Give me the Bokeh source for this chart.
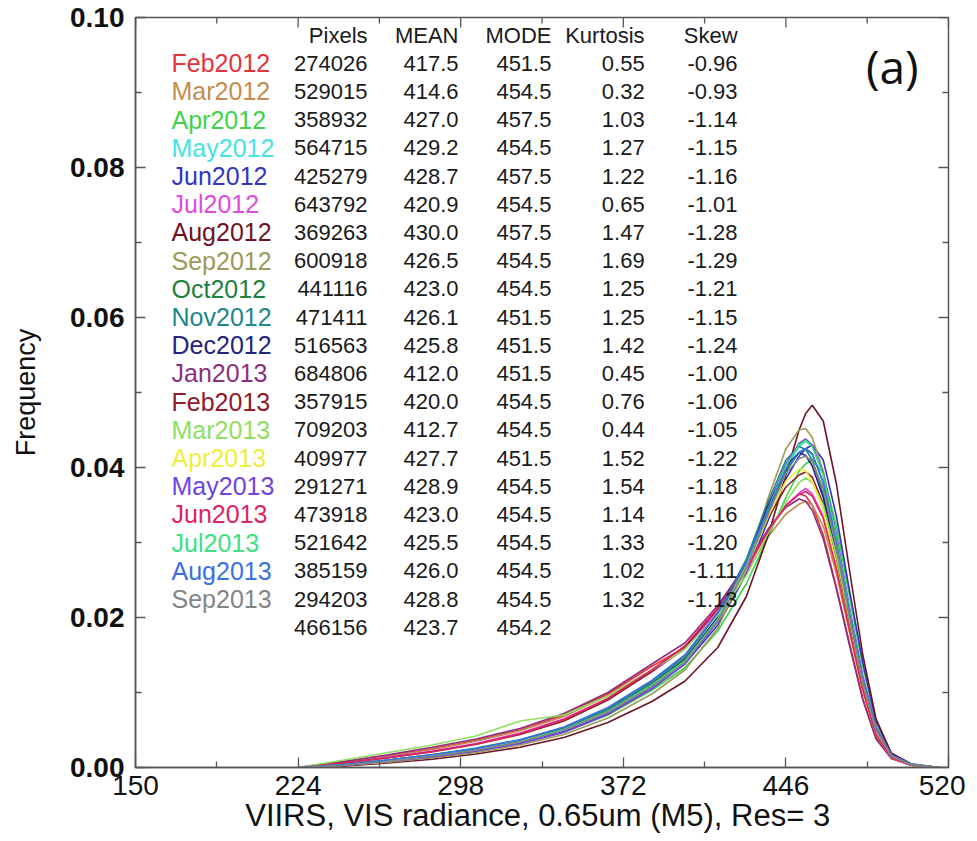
from bokeh.plotting import figure
from bokeh.models import FixedTicker, PrintfTickFormatter, Label, Range1d
from bokeh.core.properties import value
from bokeh.embed import file_html
from bokeh.resources import INLINE

# ---------------- data ----------------
months = ["Feb2012", "Mar2012", "Apr2012", "May2012", "Jun2012", "Jul2012", "Aug2012",
          "Sep2012", "Oct2012", "Nov2012", "Dec2012", "Jan2013", "Feb2013", "Mar2013",
          "Apr2013", "May2013", "Jun2013", "Jul2013", "Aug2013", "Sep2013"]
colors = ["#e3343c", "#c48d4e", "#3ed24c", "#45e3e3", "#3434c4", "#e04adf", "#6e1420",
          "#9c9a56", "#24803e", "#22878a", "#24247e", "#8e2f7e", "#8e1a2a", "#8fe060",
          "#f0ee3c", "#6f44e4", "#e0245f", "#40e083", "#3a70e0", "#858585"]
pixels = [274026, 529015, 358932, 564715, 425279, 643792, 369263, 600918, 441116, 471411,
          516563, 684806, 357915, 709203, 409977, 291271, 473918, 521642, 385159, 294203]
means = [417.5, 414.6, 427.0, 429.2, 428.7, 420.9, 430.0, 426.5, 423.0, 426.1,
         425.8, 412.0, 420.0, 412.7, 427.7, 428.9, 423.0, 425.5, 426.0, 428.8]
modes = [451.5, 454.5, 457.5, 454.5, 457.5, 454.5, 457.5, 454.5, 454.5, 451.5,
         451.5, 451.5, 454.5, 454.5, 451.5, 454.5, 454.5, 454.5, 454.5, 454.5]
kurtosis = [0.55, 0.32, 1.03, 1.27, 1.22, 0.65, 1.47, 1.69, 1.25, 1.25,
            1.42, 0.45, 0.76, 0.44, 1.52, 1.54, 1.14, 1.33, 1.02, 1.32]
skew = [-0.96, -0.93, -1.14, -1.15, -1.16, -1.01, -1.28, -1.29, -1.21, -1.15,
        -1.24, -1.00, -1.06, -1.05, -1.22, -1.18, -1.16, -1.20, -1.11, -1.13]
total_pixels = 466156
total_mean = 423.7
total_mode = 454.2

radiance = [224, 245, 265, 285, 305, 325, 345, 365, 385, 400, 415, 428, 438, 446,
            452, 455, 458, 463, 469, 475, 481, 487, 494, 503, 516]

freq_feb2012 = [0, 0.0008, 0.0016, 0.0025, 0.0036, 0.0050, 0.0070, 0.0098, 0.0135, 0.0160, 0.0212, 0.0266, 0.0318, 0.0350, 0.0365, 0.0362, 0.0350, 0.0310, 0.0240, 0.0165, 0.0092, 0.0040, 0.0012, 0.0003, 0]
freq_mar2012 = [0, 0.0007, 0.0015, 0.0024, 0.0035, 0.0049, 0.0068, 0.0096, 0.0130, 0.0158, 0.0208, 0.0260, 0.0308, 0.0338, 0.0351, 0.0355, 0.0350, 0.0322, 0.0258, 0.0180, 0.0102, 0.0044, 0.0013, 0.0003, 0]
freq_apr2012 = [0, 0.0003, 0.0008, 0.0014, 0.0022, 0.0032, 0.0047, 0.0070, 0.0103, 0.0133, 0.0182, 0.0245, 0.0308, 0.0360, 0.0395, 0.0405, 0.0410, 0.0392, 0.0322, 0.0228, 0.0135, 0.0060, 0.0018, 0.0004, 0]
freq_may2012 = [0, 0.0003, 0.0008, 0.0015, 0.0023, 0.0034, 0.0050, 0.0074, 0.0108, 0.0140, 0.0195, 0.0265, 0.0340, 0.0400, 0.0428, 0.0435, 0.0428, 0.0390, 0.0308, 0.0210, 0.0120, 0.0052, 0.0016, 0.0004, 0]
freq_jun2012 = [0, 0.0003, 0.0008, 0.0014, 0.0022, 0.0033, 0.0048, 0.0072, 0.0106, 0.0138, 0.0190, 0.0258, 0.0330, 0.0385, 0.0415, 0.0425, 0.0430, 0.0410, 0.0335, 0.0235, 0.0140, 0.0062, 0.0019, 0.0005, 0]
freq_jul2012 = [0, 0.0006, 0.0014, 0.0022, 0.0032, 0.0046, 0.0065, 0.0092, 0.0128, 0.0158, 0.0208, 0.0263, 0.0316, 0.0350, 0.0366, 0.0372, 0.0365, 0.0335, 0.0268, 0.0185, 0.0105, 0.0045, 0.0014, 0.0003, 0]
freq_aug2012 = [0, 0.0002, 0.0006, 0.0011, 0.0018, 0.0027, 0.0040, 0.0060, 0.0088, 0.0115, 0.0160, 0.0228, 0.0310, 0.0390, 0.0450, 0.0472, 0.0483, 0.0462, 0.0378, 0.0262, 0.0150, 0.0065, 0.0019, 0.0004, 0]
freq_sep2012 = [0, 0.0003, 0.0007, 0.0013, 0.0020, 0.0030, 0.0044, 0.0066, 0.0098, 0.0130, 0.0186, 0.0268, 0.0360, 0.0425, 0.0450, 0.0452, 0.0440, 0.0395, 0.0308, 0.0208, 0.0118, 0.0050, 0.0015, 0.0004, 0]
freq_oct2012 = [0, 0.0004, 0.0010, 0.0017, 0.0025, 0.0036, 0.0052, 0.0077, 0.0112, 0.0145, 0.0200, 0.0268, 0.0340, 0.0395, 0.0420, 0.0425, 0.0418, 0.0380, 0.0300, 0.0205, 0.0118, 0.0052, 0.0016, 0.0004, 0]
freq_nov2012 = [0, 0.0004, 0.0010, 0.0017, 0.0026, 0.0037, 0.0053, 0.0078, 0.0114, 0.0148, 0.0205, 0.0278, 0.0355, 0.0410, 0.0428, 0.0424, 0.0410, 0.0365, 0.0285, 0.0192, 0.0108, 0.0046, 0.0014, 0.0003, 0]
freq_dec2012 = [0, 0.0003, 0.0009, 0.0016, 0.0024, 0.0035, 0.0051, 0.0075, 0.0110, 0.0143, 0.0200, 0.0272, 0.0350, 0.0402, 0.0420, 0.0416, 0.0402, 0.0360, 0.0282, 0.0190, 0.0106, 0.0045, 0.0014, 0.0003, 0]
freq_jan2013 = [0, 0.0008, 0.0017, 0.0027, 0.0038, 0.0052, 0.0072, 0.0100, 0.0138, 0.0166, 0.0216, 0.0270, 0.0318, 0.0347, 0.0358, 0.0355, 0.0343, 0.0305, 0.0238, 0.0162, 0.0090, 0.0038, 0.0012, 0.0003, 0]
freq_feb2013 = [0, 0.0006, 0.0013, 0.0021, 0.0031, 0.0044, 0.0062, 0.0090, 0.0128, 0.0160, 0.0212, 0.0273, 0.0333, 0.0374, 0.0390, 0.0394, 0.0387, 0.0352, 0.0280, 0.0192, 0.0110, 0.0047, 0.0014, 0.0003, 0]
freq_mar2013 = [0, 0.0010, 0.0020, 0.0030, 0.0042, 0.0062, 0.0070, 0.0095, 0.0130, 0.0158, 0.0203, 0.0256, 0.0313, 0.0354, 0.0380, 0.0386, 0.0380, 0.0350, 0.0282, 0.0196, 0.0112, 0.0048, 0.0014, 0.0003, 0]
freq_apr2013 = [0, 0.0003, 0.0008, 0.0015, 0.0023, 0.0034, 0.0050, 0.0074, 0.0108, 0.0140, 0.0195, 0.0265, 0.0335, 0.0382, 0.0398, 0.0395, 0.0382, 0.0342, 0.0268, 0.0182, 0.0102, 0.0044, 0.0013, 0.0003, 0]
freq_may2013 = [0, 0.0003, 0.0008, 0.0014, 0.0022, 0.0032, 0.0047, 0.0071, 0.0105, 0.0138, 0.0195, 0.0268, 0.0345, 0.0405, 0.0432, 0.0438, 0.0430, 0.0392, 0.0310, 0.0212, 0.0122, 0.0054, 0.0017, 0.0004, 0]
freq_jun2013 = [0, 0.0006, 0.0013, 0.0021, 0.0031, 0.0045, 0.0064, 0.0092, 0.0130, 0.0162, 0.0213, 0.0266, 0.0316, 0.0349, 0.0364, 0.0368, 0.0362, 0.0332, 0.0265, 0.0182, 0.0103, 0.0044, 0.0013, 0.0003, 0]
freq_jul2013 = [0, 0.0004, 0.0009, 0.0016, 0.0024, 0.0035, 0.0051, 0.0075, 0.0110, 0.0142, 0.0198, 0.0270, 0.0345, 0.0402, 0.0430, 0.0436, 0.0428, 0.0390, 0.0306, 0.0208, 0.0118, 0.0051, 0.0016, 0.0004, 0]
freq_aug2013 = [0, 0.0004, 0.0010, 0.0017, 0.0025, 0.0037, 0.0054, 0.0080, 0.0116, 0.0150, 0.0206, 0.0275, 0.0345, 0.0398, 0.0420, 0.0425, 0.0418, 0.0380, 0.0300, 0.0205, 0.0118, 0.0052, 0.0016, 0.0004, 0]
freq_sep2013 = [0, 0.0003, 0.0008, 0.0015, 0.0023, 0.0034, 0.0050, 0.0074, 0.0108, 0.0140, 0.0196, 0.0266, 0.0338, 0.0392, 0.0412, 0.0415, 0.0408, 0.0372, 0.0294, 0.0200, 0.0114, 0.0050, 0.0015, 0.0004, 0]

series = [freq_feb2012, freq_mar2012, freq_apr2012, freq_may2012, freq_jun2012, freq_jul2012,
          freq_aug2012, freq_sep2012, freq_oct2012, freq_nov2012, freq_dec2012, freq_jan2013,
          freq_feb2013, freq_mar2013, freq_apr2013, freq_may2013, freq_jun2013, freq_jul2013,
          freq_aug2013, freq_sep2013]

x_ticks = [150, 224, 298, 372, 446, 520]
x_minor = [187, 261, 335, 409, 483]
y_ticks = [0.0, 0.02, 0.04, 0.06, 0.08, 0.10]
y_minor = [0.01, 0.03, 0.05, 0.07, 0.09]

# ---------------- figure ----------------
FONT = "Liberation Sans"
AX = "#555555"
X0, X1, Y0, Y1 = 150, 520, 0.0, 0.10

p = figure(width=965, height=841, output_backend="svg", toolbar_location=None,
           x_range=Range1d(X0, X1), y_range=Range1d(Y0, Y1),
           min_border_left=135, min_border_right=17, min_border_top=17, min_border_bottom=74,
           background_fill_color="white", border_fill_color="white")
p.xgrid.grid_line_color = None
p.ygrid.grid_line_color = None
p.outline_line_color = AX
p.outline_line_width = 1.5

def style_axis(ax, ticks, minor):
    ax.ticker = FixedTicker(ticks=ticks, minor_ticks=minor)
    ax.axis_line_color = AX
    ax.axis_line_width = 1.5
    ax.major_tick_line_color = AX
    ax.minor_tick_line_color = AX
    ax.major_tick_line_width = 1.3
    ax.minor_tick_line_width = 1.3
    ax.major_tick_out = 0
    ax.major_tick_in = 10
    ax.minor_tick_out = 0
    ax.minor_tick_in = 6

xa = p.xaxis[0]
style_axis(xa, x_ticks, x_minor)
xa.major_label_text_font = FONT
xa.major_label_text_font_size = "28px"
xa.major_label_text_color = "#111111"
xa.major_label_standoff = 8
xa.axis_label = "VIIRS, VIS radiance, 0.65um (M5), Res=  3"
xa.axis_label_text_font = FONT
xa.axis_label_text_font_size = "31px"
xa.axis_label_text_font_style = "normal"
xa.axis_label_text_color = "#111111"
xa.axis_label_standoff = 0

ya = p.yaxis[0]
style_axis(ya, y_ticks, y_minor)
ya.formatter = PrintfTickFormatter(format="%.2f")
ya.major_label_text_font = FONT
ya.major_label_text_font_size = "28px"
ya.major_label_text_font_style = "bold"
ya.major_label_text_color = "#111111"
ya.major_label_standoff = 11
ya.axis_label = "Frequency"
ya.axis_label_text_font = FONT
ya.axis_label_text_font_size = "27px"
ya.axis_label_text_font_style = "normal"
ya.axis_label_text_color = "#111111"
ya.axis_label_standoff = 26

# inward tick marks on the top and right frame edges (no labels there)
p.ray(x=x_ticks, y=[Y1] * len(x_ticks), length=10, length_units="screen",
      angle=-90, angle_units="deg", line_color=AX, line_width=1.3)
p.ray(x=x_minor, y=[Y1] * len(x_minor), length=6, length_units="screen",
      angle=-90, angle_units="deg", line_color=AX, line_width=1.3)
p.ray(x=[X1] * len(y_ticks), y=y_ticks, length=10, length_units="screen",
      angle=180, angle_units="deg", line_color=AX, line_width=1.3)
p.ray(x=[X1] * len(y_minor), y=y_minor, length=6, length_units="screen",
      angle=180, angle_units="deg", line_color=AX, line_width=1.3)

# curves
for ys, c in zip(series, colors):
    p.line(radiance, ys, line_color=c, line_width=1.6)

# ---------------- table ----------------
ROW0 = 0.0939
PITCH = 0.00376
HEAD_Y = 0.0976
X_MONTH = 166.4
X_PIX = 255.6
X_MEAN = 297.0
X_MODE = 339.3
X_KURT = 381.7
X_SKEW = 424.0

n = len(months)
row_y = [ROW0 - i * PITCH for i in range(n)]
total_y = ROW0 - n * PITCH

p.text(x=[X_MONTH] * n, y=row_y, text=months, text_color=colors,
       text_font=value(FONT), text_font_size=value("25px"),
       text_align="left", text_baseline="middle")

col_x = []
col_y = []
col_t = []
for i in range(n):
    for xx, s in ((X_PIX, str(pixels[i])), (X_MEAN, "%.1f" % means[i]), (X_MODE, "%.1f" % modes[i]),
                  (X_KURT, "%.2f" % kurtosis[i]), (X_SKEW, "%.2f" % skew[i])):
        col_x.append(xx); col_y.append(row_y[i]); col_t.append(s)
for xx, s in ((X_PIX, str(total_pixels)), (X_MEAN, "%.1f" % total_mean), (X_MODE, "%.1f" % total_mode)):
    col_x.append(xx); col_y.append(total_y); col_t.append(s)
for xx, s in ((X_PIX, "Pixels"), (X_MEAN, "MEAN"), (X_MODE, "MODE"), (X_KURT, "Kurtosis"), (X_SKEW, "Skew")):
    col_x.append(xx); col_y.append(HEAD_Y); col_t.append(s)

p.text(x=col_x, y=col_y, text=col_t, text_color="#1a1a1a",
       text_font=value(FONT), text_font_size=value("22px"),
       text_align="right", text_baseline="middle")

p.add_layout(Label(x=506.4, y=0.0935, text="(a)", text_font="Open Sans",
                   text_font_size="46px", text_align="right", text_baseline="middle",
                   text_color="#111111"))

open("out.html", "w").write(file_html(p, INLINE))
